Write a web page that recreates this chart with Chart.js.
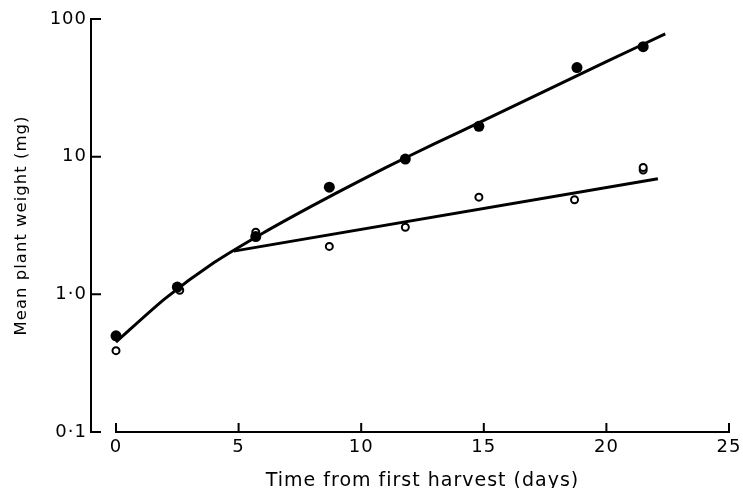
<!DOCTYPE html>
<html>
<head>
<meta charset="utf-8">
<script src="https://cdn.jsdelivr.net/npm/chart.js@4"></script>
<style>
  body { margin: 0; background: #fff; }
  canvas { display: block; }
</style>
</head>
<body>
<canvas id="chart" width="743" height="488"></canvas>
<script>
// harvest days and the two measured series
const days = [0, 2.5, 5.7, 8.7, 11.8, 14.8, 18.8, 21.5];
const filledWeights = [0.5, 1.13, 2.63, 6.0, 9.6, 16.6, 44.4, 62.9];
const openDays = [0, 2.6, 5.7, 8.7, 11.8, 14.8, 18.7, 21.5, 21.5];
const openWeights = [0.39, 1.07, 2.83, 2.23, 3.07, 5.08, 4.86, 8.0, 8.35];

// fitted curves
const upperDays = [0, 2, 4, 6, 8, 10, 12, 14, 16, 18, 20, 22.4];
const upperWeights = [0.45, 0.93, 1.7, 2.79, 4.39, 6.76, 10.2, 15.1, 22.3, 33.1, 49, 78];
const lowerDays = [4.8, 22.1];
const lowerWeights = [2.06, 6.9];

const xTicks = [0, 5, 10, 15, 20, 25];
const xTickLabels = ["0", "5", "10", "15", "20", "25"];
const yTicks = [0.1, 1, 10, 100];
const yTickLabels = ["0·1", "1·0", "10", "100"];

const pts = (xs, ys) => xs.map((x, i) => ({ x: x, y: ys[i] }));
const font = "'DejaVu Sans', sans-serif";

// wider lettering like the original
const spacingPlugin = {
  id: "spacing",
  beforeInit(chart) { chart.ctx.letterSpacing = "1px"; },
  beforeDraw(chart) { chart.ctx.letterSpacing = "1px"; },
};

// axes drawn like the original: detached y axis, inward ticks
const axesPlugin = {
  id: "axes",
  afterDraw(chart) {
    const ctx = chart.ctx;
    const xs = chart.scales.x, ys = chart.scales.y;
    const bottom = ys.getPixelForValue(0.1);
    const top = ys.getPixelForValue(100);
    const yx = chart.chartArea.left - 25;
    ctx.save();
    ctx.strokeStyle = "#000";
    ctx.lineWidth = 2;
    ctx.lineCap = "square";
    ctx.beginPath();
    ctx.moveTo(yx, top);
    ctx.lineTo(yx, bottom);
    yTicks.forEach((v) => {
      const p = ys.getPixelForValue(v);
      ctx.moveTo(yx, p);
      ctx.lineTo(yx + 9, p);
    });
    const x0 = xs.getPixelForValue(0), x1 = xs.getPixelForValue(25);
    ctx.moveTo(x0, bottom);
    ctx.lineTo(x1, bottom);
    xTicks.forEach((v) => {
      const p = xs.getPixelForValue(v);
      ctx.moveTo(p, bottom);
      ctx.lineTo(p, bottom - 8);
    });
    ctx.stroke();
    ctx.restore();
  },
};

new Chart(document.getElementById("chart"), {
  type: "scatter",
  data: {
    datasets: [
      {
        data: pts(upperDays, upperWeights),
        showLine: true,
        borderColor: "#000",
        borderWidth: 3,
        pointRadius: 0,
        tension: 0.25,
        clip: false,
      },
      {
        data: pts(lowerDays, lowerWeights),
        showLine: true,
        borderColor: "#000",
        borderWidth: 3,
        pointRadius: 0,
        clip: false,
      },
      {
        data: pts(days, filledWeights),
        pointRadius: 5.5,
        pointBackgroundColor: "#000",
        pointBorderColor: "#000",
        pointBorderWidth: 0,
        clip: false,
      },
      {
        data: pts(openDays, openWeights),
        pointRadius: 3.5,
        pointBackgroundColor: "#fff",
        pointBorderColor: "#000",
        pointBorderWidth: 2,
        clip: false,
      },
    ],
  },
  options: {
    responsive: false,
    animation: false,
    layout: { padding: { top: 19, right: 14, bottom: 0, left: 0 } },
    plugins: { legend: { display: false }, tooltip: { enabled: false } },
    scales: {
      x: {
        type: "linear",
        min: 0,
        max: 25,
        afterBuildTicks: (s) => { s.ticks = xTicks.map((v) => ({ value: v })); },
        afterFit: (s) => { s.height = 56; s.paddingLeft = 0; s.paddingRight = 0; },
        grid: { display: false, drawTicks: false },
        border: { display: false },
        ticks: {
          color: "#000",
          padding: 5,
          font: { family: font, size: 18 },
          callback: (v, i) => xTickLabels[i],
        },
        title: {
          display: true,
          text: "Time from first harvest (days)",
          color: "#000",
          font: { family: font, size: 19, lineHeight: 0.7 },
          padding: 0,
        },
      },
      y: {
        type: "logarithmic",
        min: 0.1,
        max: 100,
        afterBuildTicks: (s) => { s.ticks = yTicks.map((v) => ({ value: v })); },
        afterFit: (s) => { s.width = 116; s.paddingTop = 0; s.paddingBottom = 0; },
        grid: { display: false, drawTicks: false },
        border: { display: false },
        ticks: {
          color: "#000",
          padding: 29,
          font: { family: font, size: 18 },
          callback: (v, i) => yTickLabels[i],
        },
        title: {
          display: true,
          text: "Mean plant weight (mg)",
          color: "#000",
          font: { family: font, size: 16.5 },
          padding: { top: 12, bottom: 0 },
        },
      },
    },
  },
  plugins: [spacingPlugin, axesPlugin],
});
</script>
</body>
</html>
